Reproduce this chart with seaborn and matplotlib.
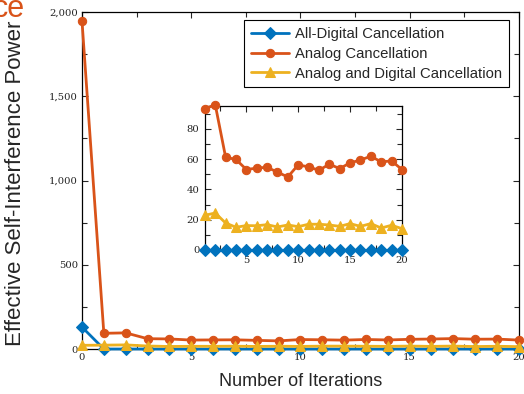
import seaborn as sns
import matplotlib.pyplot as plt
import pandas as pd
import numpy as np

iterations = list(range(0, 21))
all_digital = [130, 0, 0, 0, 0, 0, 0, 0, 0, 0, 0, 0, 0, 0, 0, 0, 0, 0, 0, 0, 0]
analog = [1945, 93.2, 95.8, 61.2, 59.7, 53.1, 54.0, 54.6, 51.3, 48.2, 56.2,
          54.8, 52.6, 56.6, 53.7, 57.5, 59.3, 61.9, 58.1, 58.8, 53.1]
analog_digital = [22, 22.9, 24.4, 17.8, 15.0, 16.1, 16.0, 16.7, 15.2, 16.5, 15.4,
                  17.0, 17.0, 16.5, 15.6, 17.4, 15.6, 17.4, 14.5, 16.3, 14.1]
names = ['All-Digital Cancellation', 'Analog Cancellation', 'Analog and Digital Cancellation']

main_yticks = [0, 500, 1000, 1500, 2000]
main_ylabels = ['0', '500', '1,000', '1,500', '2,000']
main_xticks = [0, 5, 10, 15, 20]
inset_yticks = [0, 20, 40, 60, 80]
inset_xticks = [5, 10, 15, 20]

df = pd.DataFrame({'it': iterations, names[0]: all_digital,
                   names[1]: analog, names[2]: analog_digital})

sns.set_style('ticks')
plt.rcParams['font.family'] = ['Liberation Sans', 'DejaVu Sans']

colors = ['#0072BD', '#D95319', '#EDB120']
markers = ['D', 'o', '^']
msizes = [6.5, 6, 7.5]
tickfont = {'family': 'DejaVu Serif', 'size': 7.2}


def style_axis(a, pad=3):
    a.tick_params(which='both', direction='in', top=True, right=True, width=0.8, pad=pad)
    a.tick_params(which='major', length=4)
    a.tick_params(which='minor', length=3.5)
    for lab in a.get_xticklabels() + a.get_yticklabels():
        lab.set_fontfamily(tickfont['family'])
        lab.set_fontsize(tickfont['size'])
        lab.set_color('#222222')
    for sp in a.spines.values():
        sp.set_linewidth(0.9)
        sp.set_color('black')


fig = plt.figure(figsize=(5.24, 3.94), dpi=100)
ax = fig.add_axes([0.1565, 0.1142, 0.8335, 0.8553])

for n, c, m, s in zip(names, colors, markers, msizes):
    sns.lineplot(data=df, x='it', y=n, ax=ax, color=c, marker=m, markersize=s,
                 markeredgecolor=c, linewidth=2, label=n, clip_on=False, zorder=3)

ax.set_xlim(0, 20)
ax.set_ylim(0, 2000)
ax.set_xticks(main_xticks)
ax.set_xticklabels([str(t) for t in main_xticks])
ax.set_xticks(np.arange(0, 20.1, 2.5), minor=True)
ax.set_yticks(main_yticks)
ax.set_yticklabels(main_ylabels)
ax.set_yticks(np.arange(0, 2001, 250), minor=True)
style_axis(ax)
ax.set_xlabel('Number of Iterations', fontsize=13)
ax.xaxis.set_label_coords(0.5, -0.07)
ax.set_ylabel('Effective Self-Interference Power', fontsize=16)
ax.yaxis.set_label_coords(-0.128, 0.492)

leg = ax.legend(loc='upper right', bbox_to_anchor=(0.977, 0.976), borderaxespad=0,
                fancybox=False, edgecolor='black', framealpha=1, fontsize=10.7,
                handlelength=2.55, labelspacing=0.4, handletextpad=0.4, borderpad=0.45)
leg.get_frame().set_linewidth(0.8)

ins = fig.add_axes([0.391, 0.3655, 0.376, 0.3655])
sub = df[df['it'] >= 1]
for n, c, m, s in zip(names, colors, markers, msizes):
    sns.lineplot(data=sub, x='it', y=n, ax=ins, color=c, marker=m, markersize=s,
                 markeredgecolor=c, linewidth=2, legend=False, clip_on=False, zorder=3)
ins.set_xlim(1, 20)
ins.set_ylim(0, 95)
ins.set_xticks(inset_xticks)
ins.set_xticklabels([str(t) for t in inset_xticks])
ins.set_xticks(np.arange(2.5, 20.1, 2.5), minor=True)
ins.set_yticks(inset_yticks)
ins.set_yticklabels([str(t) for t in inset_yticks])
ins.set_yticks(np.arange(0, 91, 10), minor=True)
style_axis(ins, pad=4)
ins.set_xlabel('')
ins.set_ylabel('')

fig.text(25 / 524, 1 - 17 / 394, 'ce', color='#D95319', fontsize=22, ha='right', va='baseline')

fig.savefig('out.png', dpi=100)
